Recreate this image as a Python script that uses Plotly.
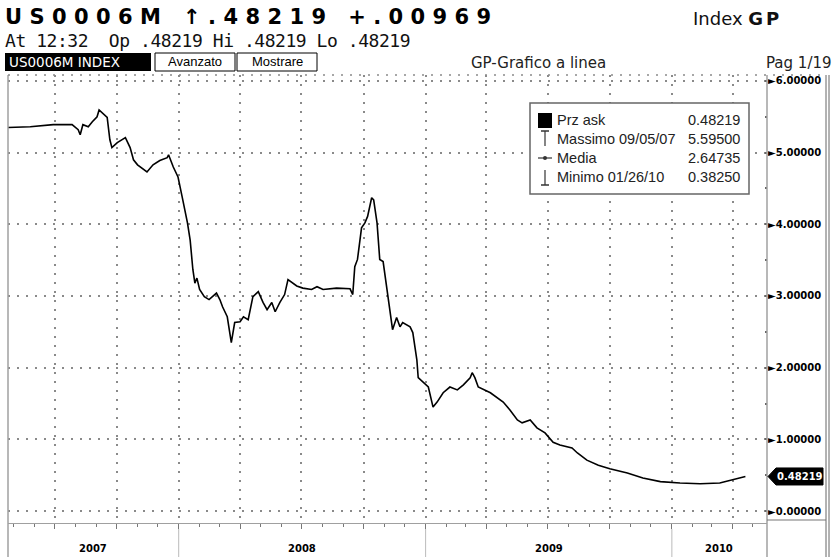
import plotly.graph_objects as go
import pandas as pd

# ---------------- data ----------------
dates = [
    "2007-04-23", "2007-05-26", "2007-06-29", "2007-07-27", "2007-08-05", "2007-08-08",
    "2007-08-12", "2007-08-20", "2007-08-26", "2007-09-02", "2007-09-05", "2007-09-12",
    "2007-09-17", "2007-09-21", "2007-09-24", "2007-10-02", "2007-10-14", "2007-10-21",
    "2007-10-26", "2007-11-01", "2007-11-05", "2007-11-15", "2007-11-24", "2007-12-04",
    "2007-12-15", "2007-12-17", "2007-12-24", "2007-12-31",
    "2008-01-06", "2008-01-14", "2008-01-18", "2008-01-22", "2008-01-25", "2008-01-28",
    "2008-02-01", "2008-02-08", "2008-02-15", "2008-02-26", "2008-03-02", "2008-03-06",
    "2008-03-13", "2008-03-19", "2008-03-24", "2008-04-01", "2008-04-06", "2008-04-13",
    "2008-04-20", "2008-04-28", "2008-05-05", "2008-05-11", "2008-05-18", "2008-05-23",
    "2008-05-30", "2008-06-06", "2008-06-11", "2008-06-24", "2008-07-03", "2008-07-16",
    "2008-07-24", "2008-08-02", "2008-08-22", "2008-09-11", "2008-09-15", "2008-09-18",
    "2008-09-22", "2008-09-28", "2008-10-03", "2008-10-07", "2008-10-13", "2008-10-16",
    "2008-10-21", "2008-10-25", "2008-10-30", "2008-11-04", "2008-11-09", "2008-11-13",
    "2008-11-19", "2008-11-24", "2008-11-28", "2008-12-09", "2008-12-13", "2008-12-19",
    "2008-12-21", "2008-12-28",
    "2009-01-05", "2009-01-12", "2009-01-18", "2009-01-27", "2009-02-06", "2009-02-17",
    "2009-02-26", "2009-03-08", "2009-03-11", "2009-03-15", "2009-03-20", "2009-04-07",
    "2009-04-26", "2009-05-06", "2009-05-17", "2009-05-24", "2009-06-05", "2009-06-15",
    "2009-06-27", "2009-07-09", "2009-07-19", "2009-08-06", "2009-08-14", "2009-08-28",
    "2009-09-14", "2009-10-01", "2009-10-27", "2009-11-19", "2009-12-15",
    "2010-01-13", "2010-01-26", "2010-02-12", "2010-03-13", "2010-03-21", "2010-04-02",
    "2010-04-20",
]
values = [
    5.35, 5.36, 5.39, 5.39, 5.32, 5.25,
    5.39, 5.36, 5.43, 5.50, 5.595, 5.54,
    5.49, 5.18, 5.07, 5.14, 5.21, 5.07,
    4.90, 4.83, 4.80, 4.73, 4.83, 4.89,
    4.93, 4.97, 4.80, 4.66,
    4.39, 4.02, 3.78, 3.37, 3.18, 3.25,
    3.09, 2.99, 2.95, 3.04, 2.95, 2.85,
    2.71, 2.35, 2.63, 2.64, 2.71, 2.67,
    2.99, 3.06, 2.91, 2.81, 2.91, 2.78,
    2.91, 3.02, 3.23, 3.14, 3.11, 3.09,
    3.13, 3.09, 3.11, 3.10, 3.02, 3.41,
    3.51, 3.95, 4.02, 4.11, 4.37, 4.34,
    4.02, 3.51, 3.48, 3.13, 2.81, 2.53,
    2.70, 2.57, 2.63, 2.57, 2.49, 2.11,
    1.86, 1.80,
    1.73, 1.45, 1.52, 1.65, 1.73, 1.69,
    1.76, 1.86, 1.93, 1.86, 1.73, 1.65,
    1.52, 1.41, 1.27, 1.23, 1.27, 1.16,
    1.09, 0.96, 0.92, 0.88, 0.81, 0.71,
    0.64, 0.59, 0.53, 0.46, 0.41,
    0.39, 0.3825, 0.38, 0.39, 0.41, 0.43,
    0.48219,
]

x_range = ["2007-04-23", "2010-05-22"]
y_range = [-0.167, 6.083]
y_tick_vals = [0, 1, 2, 3, 4, 5, 6]
y_tick_text = ["0.00000", "1.00000", "2.00000", "3.00000", "4.00000", "5.00000", "6.00000"]
year_starts = ["2008-01-01", "2009-01-01", "2010-01-01"]
year_labels = ["2007", "2008", "2009", "2010"]

ticker = "US0006M"
last_txt = ".48219"
change_txt = "+.00969"
sub_line = "At 12:32\u00a0\u00a0Op .48219 Hi .48219 Lo .48219"
legend_labels = ["Prz ask", "Massimo 09/05/07", "Media", "Minimo 01/26/10"]
legend_values = ["0.48219", "5.59500", "2.64735", "0.38250"]

# ---------------- geometry helpers (pixel -> paper) ----------------
W, H = 837, 557
L, R, T, B = 8, 70, 75, 34
PW, PH = W - L - R, H - T - B


def px(x):
    return (x - L) / PW


def py(y):
    return (H - B - y) / PH


GRID = "#8a8a8a"
FRAME = "#a0a0a0"

fig = go.Figure()
fig.add_trace(go.Scatter(x=dates, y=values, mode="lines",
                         line=dict(color="black", width=1.6), hoverinfo="skip"))

fig.update_layout(
    width=W, height=H, margin=dict(l=L, r=R, t=T, b=B),
    paper_bgcolor="white", plot_bgcolor="white", showlegend=False,
    xaxis=dict(type="date", range=x_range, showgrid=True, gridcolor=GRID,
               griddash="2px,7px", gridwidth=1.5, dtick="M3", tick0="2007-01-01",
               ticks="outside", ticklen=5, tickcolor="#777", tickwidth=1,
               showticklabels=False, showline=True, linecolor=FRAME, linewidth=1,
               zeroline=False,
               minor=dict(dtick="M1", ticks="outside", ticklen=3, tickcolor="#777",
                          showgrid=False)),
    yaxis=dict(side="right", range=y_range, tickvals=y_tick_vals,
               ticktext=["<b>\u25ba" + t + "</b>" for t in y_tick_text],
               tickfont=dict(family="DejaVu Sans", size=10, color="black"),
               showgrid=True, gridcolor=GRID, griddash="2px,7px", gridwidth=1.5,
               zeroline=False, showline=False, ticks="", ticklabelstandoff=0,
               minor=dict(dtick=0.5, ticks="inside", ticklen=2, tickwidth=2,
                          tickcolor="#666", showgrid=False)),
)

shapes = []
# header boxes
shapes.append(dict(type="rect", xref="paper", yref="paper", x0=px(5), x1=px(151),
                   y0=py(71), y1=py(53), fillcolor="black", line=dict(width=0)))
for a, b in [(155, 235), (237, 317)]:
    shapes.append(dict(type="rect", xref="paper", yref="paper", x0=px(a), x1=px(b),
                       y0=py(71), y1=py(53), line=dict(color="black", width=1)))
# frame lines
for x in [L, L + PW]:
    shapes.append(dict(type="line", xref="paper", yref="paper", x0=px(x), x1=px(x),
                       y0=py(75), y1=py(557), line=dict(color=FRAME, width=1.5)))
for x in [826, 829]:
    shapes.append(dict(type="line", xref="paper", yref="paper", x0=px(x), x1=px(x),
                       y0=py(75), y1=py(557), line=dict(color="#666", width=1)))
shapes.append(dict(type="line", xref="paper", yref="paper", x0=px(767), x1=px(826),
                   y0=py(520), y1=py(520), line=dict(color="#777", width=1)))
shapes.append(dict(type="line", xref="paper", yref="paper", x0=px(8), x1=px(826),
                   y0=py(75), y1=py(75), line=dict(color=GRID, width=1.5, dash="2px,7px")))
# year separators
for d in year_starts:
    shapes.append(dict(type="line", xref="x", yref="paper", x0=d, x1=d,
                       y0=py(529), y1=py(557), line=dict(color="#bbbbbb", width=1)))
# legend box
shapes.append(dict(type="rect", xref="paper", yref="paper", x0=px(530), x1=px(749),
                   y0=py(194), y1=py(103), fillcolor="white",
                   line=dict(color="#666", width=1.5)))
rows_y = [120, 139, 158, 177]
shapes.append(dict(type="rect", xref="paper", yref="paper", x0=px(538), x1=px(552),
                   y0=py(128), y1=py(113), fillcolor="black", line=dict(width=0)))
shapes.append(dict(type="line", xref="paper", yref="paper", x0=px(541), x1=px(549),
                   y0=py(131), y1=py(131), line=dict(color="#333", width=1.5)))
shapes.append(dict(type="line", xref="paper", yref="paper", x0=px(545), x1=px(545),
                   y0=py(131), y1=py(146), line=dict(color="#333", width=1.2)))
shapes.append(dict(type="line", xref="paper", yref="paper", x0=px(538), x1=px(552),
                   y0=py(158), y1=py(158), line=dict(color="#333", width=1.2)))
shapes.append(dict(type="circle", xref="paper", yref="paper", x0=px(543), x1=px(547),
                   y0=py(160), y1=py(156), fillcolor="#333", line=dict(width=0)))
shapes.append(dict(type="line", xref="paper", yref="paper", x0=px(545), x1=px(545),
                   y0=py(170), y1=py(185), line=dict(color="#333", width=1.2)))
shapes.append(dict(type="line", xref="paper", yref="paper", x0=px(541), x1=px(549),
                   y0=py(185), y1=py(185), line=dict(color="#333", width=1.5)))
# last price tag
last = values[-1]
hh = 8.5 / 71.67
tag = (f"M {px(768)},{last} L {px(776)},{last + hh} L {px(823)},{last + hh} "
       f"L {px(823)},{last - hh} L {px(776)},{last - hh} Z")
shapes.append(dict(type="path", xref="paper", yref="y", path=tag,
                   fillcolor="black", line=dict(color="black", width=1)))
fig.update_layout(shapes=shapes)

ann = []


def text(x, y, s, size, family="DejaVu Sans", color="black", xanchor="left", **kw):
    ann.append(dict(x=px(x), y=py(y), xref="paper", yref="paper", text=s,
                    showarrow=False, xanchor=xanchor, yanchor="middle", borderpad=0,
                    font=dict(family=family, size=size, color=color), **kw))


text(4, 17, f'<b><span style="letter-spacing:7.4px">{ticker} \u2191{last_txt} {change_txt}</span></b>',
     21, family="DejaVu Sans", color="black")
text(4, 40, f'<span style="letter-spacing:-0.45px">{sub_line}</span>', 18,
     family="DejaVu Sans Mono", color="#111")
text(692, 18, 'Index <b><span style="letter-spacing:3px">GP</span></b>', 18,
     family="DejaVu Sans", color="#111")
text(8, 62, f"{ticker} INDEX", 13.5, color="white")
text(195, 61, "Avanzato", 13, family="Liberation Sans", xanchor="center")
text(277, 61, "Mostrare", 13, family="Liberation Sans", xanchor="center")
text(538, 63, "GP-Grafico a linea", 15, color="#222", xanchor="center")
text(765, 63, "Pag 1/19", 15, color="#222")
for yy, lab, val in zip(rows_y, legend_labels, legend_values):
    text(556, yy, lab, 14.5, family="Liberation Sans", color="#222")
    text(741, yy, val, 14.5, family="Liberation Sans", color="#222", xanchor="right")

# year labels centred on the visible part of each year
bounds = [pd.Timestamp(x_range[0])] + [pd.Timestamp(d) for d in year_starts] + [pd.Timestamp(x_range[1])]
for lab, a, b in zip(year_labels, bounds[:-1], bounds[1:]):
    mid = a + (b - a) / 2
    ann.append(dict(x=mid, y=py(548), xref="x", yref="paper", text=f"<b>{lab}</b>",
                    showarrow=False, xanchor="center", yanchor="middle",
                    font=dict(family="DejaVu Sans", size=10, color="black")))
# last price label
ann.append(dict(x=px(800), y=last, xref="paper", yref="y", text=f"<b>{last:.5f}</b>",
                showarrow=False, xanchor="center", yanchor="middle",
                font=dict(family="DejaVu Sans", size=10, color="white")))
fig.update_layout(annotations=ann)

fig.write_html("out.html", config={"displayModeBar": False},
               post_script="document.body.style.margin='0';document.body.style.overflow='hidden';")
